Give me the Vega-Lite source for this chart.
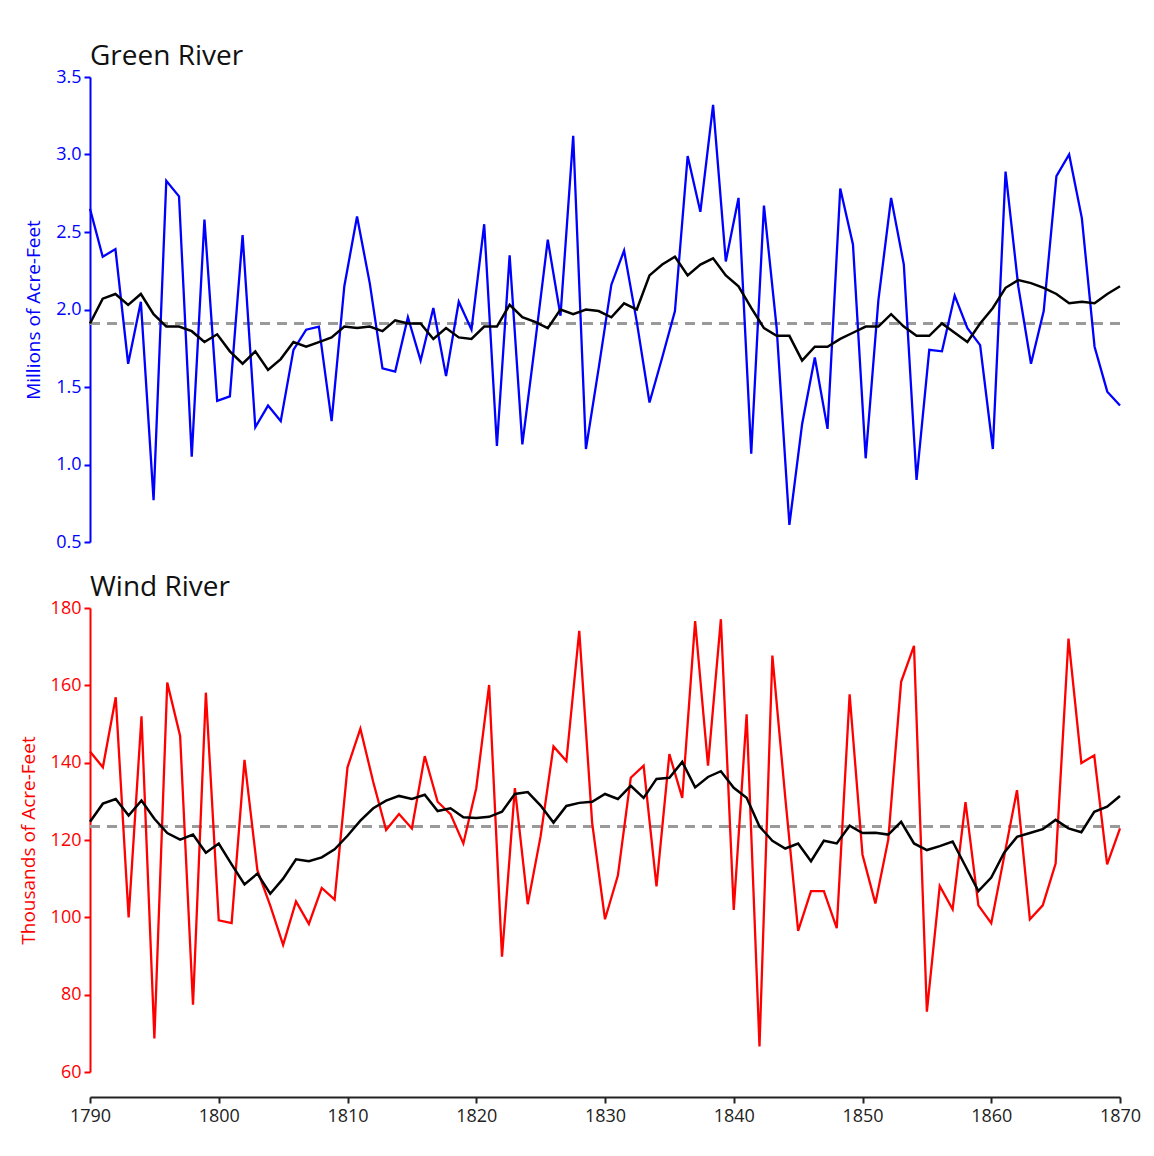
{
  "$schema": "https://vega.github.io/schema/vega-lite/v6.json",
  "background": "white",
  "padding": {"left": 19, "top": 43, "right": 20, "bottom": 14},
  "config": {
    "font": "Open Sans",
    "view": {"stroke": null},
    "axis": {"grid": false, "labelFont": "Open Sans", "titleFont": "Open Sans", "labelFlush": false, "titleFontWeight": "normal"},
    "title": {"font": "Open Sans", "fontWeight": "normal", "fontSize": 28, "color": "#111111", "anchor": "start", "frame": "group", "offset": -3}
  },
  "datasets": {
    "green": [
      {"year": 1790, "flow": 2.65, "avg": 1.91}, {"year": 1791, "flow": 2.34, "avg": 2.07}, {"year": 1792, "flow": 2.39, "avg": 2.10},
      {"year": 1793, "flow": 1.65, "avg": 2.03}, {"year": 1794, "flow": 2.05, "avg": 2.10}, {"year": 1795, "flow": 0.77, "avg": 1.97},
      {"year": 1796, "flow": 2.83, "avg": 1.89}, {"year": 1797, "flow": 2.73, "avg": 1.89}, {"year": 1798, "flow": 1.05, "avg": 1.86},
      {"year": 1799, "flow": 2.58, "avg": 1.79}, {"year": 1800, "flow": 1.41, "avg": 1.84}, {"year": 1801, "flow": 1.44, "avg": 1.73},
      {"year": 1802, "flow": 2.48, "avg": 1.65}, {"year": 1803, "flow": 1.24, "avg": 1.73}, {"year": 1804, "flow": 1.38, "avg": 1.61},
      {"year": 1805, "flow": 1.28, "avg": 1.68}, {"year": 1806, "flow": 1.74, "avg": 1.79}, {"year": 1807, "flow": 1.87, "avg": 1.76},
      {"year": 1808, "flow": 1.89, "avg": 1.79}, {"year": 1809, "flow": 1.28, "avg": 1.82}, {"year": 1810, "flow": 2.15, "avg": 1.89},
      {"year": 1811, "flow": 2.60, "avg": 1.88}, {"year": 1812, "flow": 2.17, "avg": 1.89}, {"year": 1813, "flow": 1.62, "avg": 1.86},
      {"year": 1814, "flow": 1.60, "avg": 1.93}, {"year": 1815, "flow": 1.95, "avg": 1.91}, {"year": 1816, "flow": 1.67, "avg": 1.91},
      {"year": 1817, "flow": 2.01, "avg": 1.81}, {"year": 1818, "flow": 1.57, "avg": 1.88}, {"year": 1819, "flow": 2.05, "avg": 1.82},
      {"year": 1820, "flow": 1.87, "avg": 1.81}, {"year": 1821, "flow": 2.55, "avg": 1.89}, {"year": 1822, "flow": 1.12, "avg": 1.89},
      {"year": 1823, "flow": 2.35, "avg": 2.03}, {"year": 1824, "flow": 1.13, "avg": 1.95}, {"year": 1825, "flow": 1.78, "avg": 1.92},
      {"year": 1826, "flow": 2.45, "avg": 1.88}, {"year": 1827, "flow": 1.96, "avg": 2.00}, {"year": 1828, "flow": 3.12, "avg": 1.97},
      {"year": 1829, "flow": 1.10, "avg": 2.00}, {"year": 1830, "flow": 1.62, "avg": 1.99}, {"year": 1831, "flow": 2.16, "avg": 1.95},
      {"year": 1832, "flow": 2.38, "avg": 2.04}, {"year": 1833, "flow": 1.92, "avg": 2.00}, {"year": 1834, "flow": 1.40, "avg": 2.22},
      {"year": 1835, "flow": 1.69, "avg": 2.29}, {"year": 1836, "flow": 1.99, "avg": 2.34}, {"year": 1837, "flow": 2.99, "avg": 2.22},
      {"year": 1838, "flow": 2.63, "avg": 2.29}, {"year": 1839, "flow": 3.32, "avg": 2.33}, {"year": 1840, "flow": 2.31, "avg": 2.22},
      {"year": 1841, "flow": 2.72, "avg": 2.15}, {"year": 1842, "flow": 1.07, "avg": 2.01}, {"year": 1843, "flow": 2.67, "avg": 1.88},
      {"year": 1844, "flow": 1.88, "avg": 1.83}, {"year": 1845, "flow": 0.61, "avg": 1.83}, {"year": 1846, "flow": 1.26, "avg": 1.67},
      {"year": 1847, "flow": 1.69, "avg": 1.76}, {"year": 1848, "flow": 1.23, "avg": 1.76}, {"year": 1849, "flow": 2.78, "avg": 1.81},
      {"year": 1850, "flow": 2.42, "avg": 1.85}, {"year": 1851, "flow": 1.04, "avg": 1.89}, {"year": 1852, "flow": 2.06, "avg": 1.89},
      {"year": 1853, "flow": 2.72, "avg": 1.97}, {"year": 1854, "flow": 2.29, "avg": 1.89}, {"year": 1855, "flow": 0.90, "avg": 1.83},
      {"year": 1856, "flow": 1.74, "avg": 1.83}, {"year": 1857, "flow": 1.73, "avg": 1.91}, {"year": 1858, "flow": 2.09, "avg": 1.85},
      {"year": 1859, "flow": 1.88, "avg": 1.79}, {"year": 1860, "flow": 1.77, "avg": 1.91}, {"year": 1861, "flow": 1.10, "avg": 2.01},
      {"year": 1862, "flow": 2.89, "avg": 2.14}, {"year": 1863, "flow": 2.15, "avg": 2.19}, {"year": 1864, "flow": 1.65, "avg": 2.17},
      {"year": 1865, "flow": 1.99, "avg": 2.14}, {"year": 1866, "flow": 2.86, "avg": 2.10}, {"year": 1867, "flow": 3.00, "avg": 2.04},
      {"year": 1868, "flow": 2.59, "avg": 2.05}, {"year": 1869, "flow": 1.76, "avg": 2.04}, {"year": 1870, "flow": 1.47, "avg": 2.10},
      {"year": 1871, "flow": 1.38, "avg": 2.15}
    ],
    "wind": [
      {"year": 1790, "flow": 142.9, "avg": 124.7}, {"year": 1791, "flow": 138.8, "avg": 129.4}, {"year": 1792, "flow": 156.9, "avg": 130.6},
      {"year": 1793, "flow": 100.0, "avg": 126.3}, {"year": 1794, "flow": 152.0, "avg": 130.2}, {"year": 1795, "flow": 68.7, "avg": 125.5},
      {"year": 1796, "flow": 160.7, "avg": 121.8}, {"year": 1797, "flow": 146.9, "avg": 120.1}, {"year": 1798, "flow": 77.4, "avg": 121.4},
      {"year": 1799, "flow": 158.1, "avg": 116.7}, {"year": 1800, "flow": 99.2, "avg": 119.1}, {"year": 1801, "flow": 98.5, "avg": 113.7},
      {"year": 1802, "flow": 140.7, "avg": 108.5}, {"year": 1803, "flow": 112.2, "avg": 111.3}, {"year": 1804, "flow": 103.0, "avg": 106.1},
      {"year": 1805, "flow": 92.9, "avg": 110.0}, {"year": 1806, "flow": 104.1, "avg": 115.0}, {"year": 1807, "flow": 98.3, "avg": 114.5},
      {"year": 1808, "flow": 107.6, "avg": 115.5}, {"year": 1809, "flow": 104.6, "avg": 117.6}, {"year": 1810, "flow": 138.8, "avg": 121.1},
      {"year": 1811, "flow": 148.8, "avg": 125.0}, {"year": 1812, "flow": 135.0, "avg": 128.2}, {"year": 1813, "flow": 122.6, "avg": 130.2},
      {"year": 1814, "flow": 126.7, "avg": 131.4}, {"year": 1815, "flow": 123.0, "avg": 130.6}, {"year": 1816, "flow": 141.7, "avg": 131.7},
      {"year": 1817, "flow": 129.9, "avg": 127.5}, {"year": 1818, "flow": 126.7, "avg": 128.2}, {"year": 1819, "flow": 119.1, "avg": 125.9},
      {"year": 1820, "flow": 133.4, "avg": 125.7}, {"year": 1821, "flow": 160.1, "avg": 126.0}, {"year": 1822, "flow": 89.8, "avg": 127.3},
      {"year": 1823, "flow": 133.4, "avg": 131.9}, {"year": 1824, "flow": 103.4, "avg": 132.4}, {"year": 1825, "flow": 121.0, "avg": 128.9},
      {"year": 1826, "flow": 144.2, "avg": 124.5}, {"year": 1827, "flow": 140.4, "avg": 128.8}, {"year": 1828, "flow": 174.1, "avg": 129.6},
      {"year": 1829, "flow": 124.5, "avg": 129.9}, {"year": 1830, "flow": 99.5, "avg": 131.9}, {"year": 1831, "flow": 110.8, "avg": 130.6},
      {"year": 1832, "flow": 136.1, "avg": 134.0}, {"year": 1833, "flow": 139.2, "avg": 130.9}, {"year": 1834, "flow": 108.0, "avg": 135.8},
      {"year": 1835, "flow": 142.2, "avg": 136.1}, {"year": 1836, "flow": 130.9, "avg": 140.2}, {"year": 1837, "flow": 176.6, "avg": 133.6},
      {"year": 1838, "flow": 139.2, "avg": 136.3}, {"year": 1839, "flow": 177.1, "avg": 137.8}, {"year": 1840, "flow": 101.9, "avg": 133.5},
      {"year": 1841, "flow": 152.5, "avg": 130.9}, {"year": 1842, "flow": 66.6, "avg": 123.5}, {"year": 1843, "flow": 167.7, "avg": 119.8},
      {"year": 1844, "flow": 131.0, "avg": 117.8}, {"year": 1845, "flow": 96.5, "avg": 119.1}, {"year": 1846, "flow": 106.8, "avg": 114.5},
      {"year": 1847, "flow": 106.8, "avg": 119.8}, {"year": 1848, "flow": 97.2, "avg": 119.1}, {"year": 1849, "flow": 157.7, "avg": 123.7},
      {"year": 1850, "flow": 116.2, "avg": 121.8}, {"year": 1851, "flow": 103.6, "avg": 121.9}, {"year": 1852, "flow": 120.1, "avg": 121.4},
      {"year": 1853, "flow": 160.9, "avg": 124.7}, {"year": 1854, "flow": 170.2, "avg": 119.1}, {"year": 1855, "flow": 75.6, "avg": 117.4},
      {"year": 1856, "flow": 108.1, "avg": 118.4}, {"year": 1857, "flow": 102.1, "avg": 119.6}, {"year": 1858, "flow": 129.8, "avg": 113.2},
      {"year": 1859, "flow": 103.1, "avg": 106.8}, {"year": 1860, "flow": 98.5, "avg": 110.3}, {"year": 1861, "flow": 115.7, "avg": 116.7},
      {"year": 1862, "flow": 132.9, "avg": 120.8}, {"year": 1863, "flow": 99.5, "avg": 121.8}, {"year": 1864, "flow": 103.1, "avg": 122.8},
      {"year": 1865, "flow": 113.9, "avg": 125.2}, {"year": 1866, "flow": 172.1, "avg": 123.0}, {"year": 1867, "flow": 139.9, "avg": 122.0},
      {"year": 1868, "flow": 141.9, "avg": 127.3}, {"year": 1869, "flow": 113.7, "avg": 128.6}, {"year": 1870, "flow": 123.0, "avg": 131.4}
    ]
  },
  "bounds": "flush",
  "spacing": 66,
  "vconcat": [
    {
      "width": 1030,
      "height": 465,
      "title": {"text": "Green River"},
      "data": {"name": "green"},
      "encoding": {
        "x": {"field": "year", "type": "quantitative", "scale": {"domain": [1790, 1871], "nice": false, "zero": false}, "axis": null}
      },
      "layer": [
        {
          "mark": {"type": "rule", "color": "#999999", "strokeWidth": 2, "strokeDash": [10, 7]},
          "encoding": {"x": null, "y": {"datum": 1.91}}
        },
        {
          "mark": {"type": "line", "color": "#0000ff", "strokeWidth": 2.3},
          "encoding": {
            "y": {"field": "flow", "type": "quantitative",
              "scale": {"domain": [0.5, 3.5], "nice": false, "zero": false},
              "axis": {"title": "Millions of Acre-Feet", "values": [0.5, 1, 1.5, 2, 2.5, 3, 3.5], "format": ".1f",
                "domainColor": "#0000ff", "domainWidth": 2, "tickColor": "#0000ff", "tickWidth": 2, "tickSize": 6,
                "labelColor": "#0000ff", "labelFontSize": 18, "labelPadding": 3,
                "titleColor": "#0000ff", "titleFontSize": 19, "titlePadding": 12}
            }
          }
        },
        {
          "mark": {"type": "line", "color": "#000000", "strokeWidth": 2.5},
          "encoding": {"y": {"field": "avg", "type": "quantitative"}}
        }
      ]
    },
    {
      "width": 1030,
      "height": 464,
      "title": {"text": "Wind River"},
      "data": {"name": "wind"},
      "encoding": {
        "x": {"field": "year", "type": "quantitative", "scale": {"domain": [1790, 1870], "nice": false, "zero": false},
          "axis": {"title": null, "values": [1790, 1800, 1810, 1820, 1830, 1840, 1850, 1860, 1870], "format": "d",
            "offset": 25, "domainColor": "#222222", "domainWidth": 2, "tickColor": "#222222", "tickWidth": 2, "tickSize": 6,
            "labelColor": "#222222", "labelFontSize": 18, "labelPadding": 4}}
      },
      "layer": [
        {
          "mark": {"type": "rule", "color": "#999999", "strokeWidth": 2, "strokeDash": [10, 7]},
          "encoding": {"x": null, "y": {"datum": 123.5}}
        },
        {
          "mark": {"type": "line", "color": "#ff0000", "strokeWidth": 2.3},
          "encoding": {
            "y": {"field": "flow", "type": "quantitative",
              "scale": {"domain": [60, 180], "nice": false, "zero": false},
              "axis": {"title": "Thousands of Acre-Feet", "values": [60, 80, 100, 120, 140, 160, 180], "format": "d",
                "domainColor": "#ff0000", "domainWidth": 2, "tickColor": "#ff0000", "tickWidth": 2, "tickSize": 6,
                "labelColor": "#ff0000", "labelFontSize": 18, "labelPadding": 3,
                "titleColor": "#ff0000", "titleFontSize": 19, "titlePadding": 12}
            }
          }
        },
        {
          "mark": {"type": "line", "color": "#000000", "strokeWidth": 2.5},
          "encoding": {"y": {"field": "avg", "type": "quantitative"}}
        }
      ]
    }
  ]
}
